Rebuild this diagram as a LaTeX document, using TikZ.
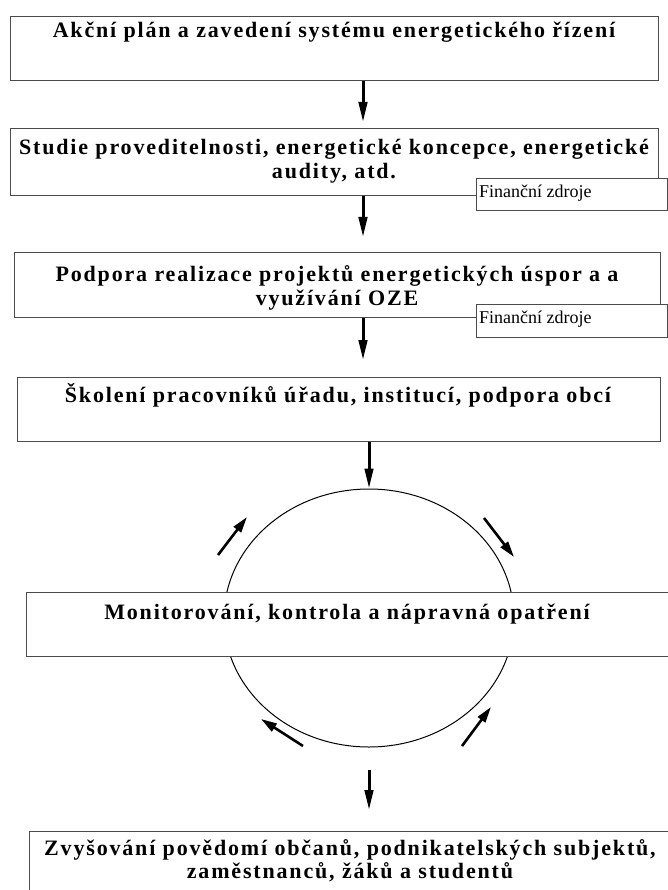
\documentclass[tikz,border=0pt]{standalone}
\usepackage{fontspec}
\setmainfont{Liberation Serif}
\newfontfamily\ttlfont[LetterSpace=8.3]{Liberation Serif}
\usetikzlibrary{shapes.geometric,arrows.meta}
\definecolor{boxgray}{gray}{0.3}
\begin{document}
\begin{tikzpicture}[x=1pt,y=-1pt,
  box/.style={draw=boxgray, line width=1.1pt, fill=white, inner sep=0pt, anchor=north west},
  ttl/.style={inner sep=0pt, anchor=base, font=\ttlfont\bfseries\fontsize{22}{24}\selectfont},
  fin/.style={inner sep=0pt, anchor=base west, font=\fontsize{18}{22}\selectfont},
  varr/.style={line width=3pt, -{Triangle[length=20pt,width=8.5pt]}},
  carr/.style={line width=2.6pt, -{Triangle[length=16pt,width=9pt]}}]
\useasboundingbox (0,0) rectangle (668,890);
\clip (0,0) rectangle (668,890);
\fill[white] (0,0) rectangle (668,890);
\coordinate (ax) at (363,0);
% cycle ellipse
\node[draw, ellipse, line width=1pt, minimum width=290pt, minimum height=258pt, inner sep=0pt] (ell) at (369,618) {};
% boxes
\node[box, minimum width=648pt, minimum height=64pt] (b1) at (10,16) {};
\node[box, minimum width=648pt, minimum height=67pt] (b2) at (10,128) {};
\node[box, minimum width=191pt, minimum height=32pt] (f1) at (476,178) {};
\node[box, minimum width=646pt, minimum height=65pt] (b3) at (14,252) {};
\node[box, minimum width=191pt, minimum height=33pt] (f2) at (476,304) {};
\node[box, minimum width=643pt, minimum height=64pt] (b4) at (17,377) {};
\node[box, minimum width=645pt, minimum height=64pt] (b5) at (26,592) {};
\node[box, minimum width=642pt, minimum height=70pt] (b6) at (29,831) {};
% texts
\node[ttl] (t1) at (334,38) {Akční plán a zavedení systému energetického řízení};
\node[ttl] (t2a) at (334,155) {Studie proveditelnosti, energetické koncepce, energetické};
\node[ttl] (t2b) at (334,179) {audity, atd.};
\node[fin] (tf1) at (479,198) {Finanční zdroje};
\node[ttl] (t3a) at (337,281) {Podpora realizace projektů energetických úspor a a};
\node[ttl] (t3b) at (337,305) {využívání OZE};
\node[fin] (tf2) at (479,323) {Finanční zdroje};
\node[ttl] (t4) at (338,402) {Školení pracovníků úřadu, institucí, podpora obcí};
\node[ttl] (t5) at (347,619) {Monitorování, kontrola a nápravná opatření};
\node[ttl] (t6a) at (350,855) {Zvyšování povědomí občanů, podnikatelských subjektů,};
\node[ttl] (t6b) at (350,878) {zaměstnanců, žáků a studentů};
% vertical arrows
\draw[varr, shorten >=6pt] (b1.south -| ax) -- (b2.north -| ax);
\draw[varr, shorten >=15pt] (b2.south -| ax) -- (b3.north -| ax);
\draw[varr, shorten >=17pt] (b3.south -| ax) -- (b4.north -| ax);
\draw[varr] (b4.south -| ell.north) -- (ell.north);
\draw[varr, shorten <=22pt, shorten >=21pt] (ell.south) -- (b6.north -| ell.south);
% cycle arrows
\coordinate (ula) at (218,555); \coordinate (ulb) at (247,517);
\coordinate (ura) at (484,518); \coordinate (urb) at (514,557);
\coordinate (lla) at (303,746); \coordinate (llb) at (261,719);
\coordinate (lra) at (462,746); \coordinate (lrb) at (491,707);
\draw[carr] (ula) -- (ulb);
\draw[carr] (ura) -- (urb);
\draw[carr] (lla) -- (llb);
\draw[carr] (lra) -- (lrb);
\end{tikzpicture}
\end{document}
